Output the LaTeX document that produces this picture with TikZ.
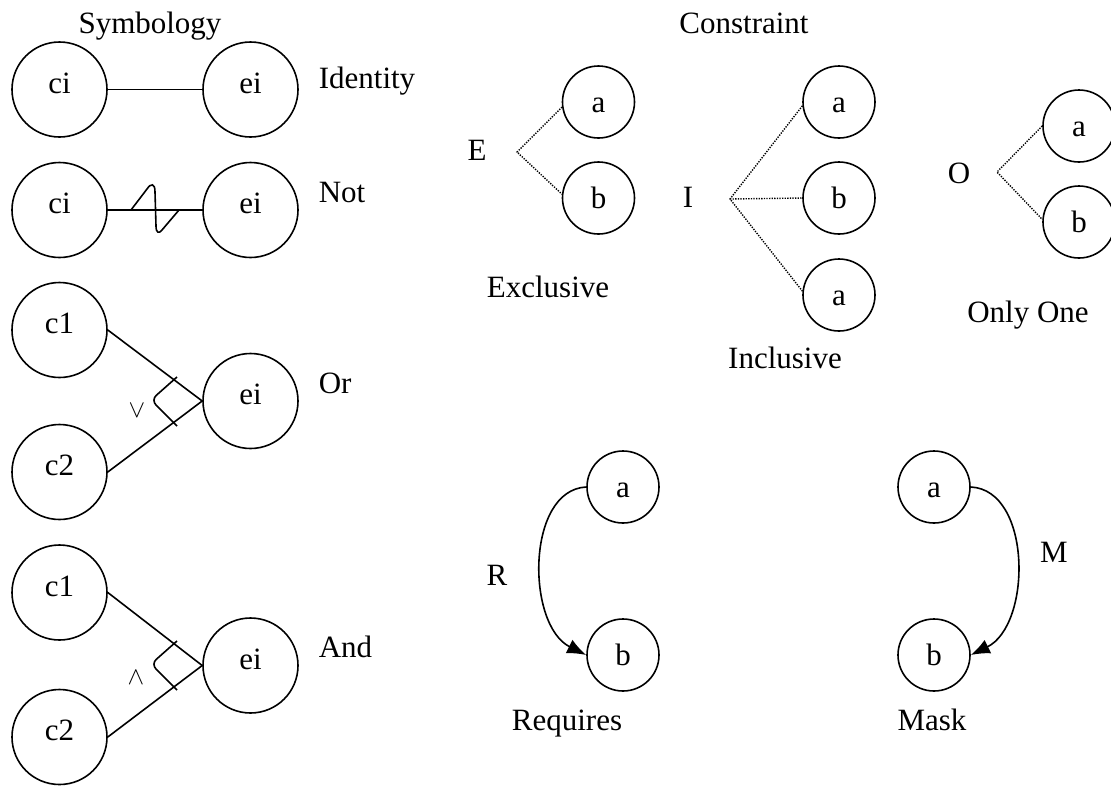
\documentclass[tikz,border=0pt]{standalone}
\usepackage{fontspec}
\setmainfont{Liberation Serif}
\usetikzlibrary{arrows.meta}
\begin{document}
\begin{tikzpicture}[x=1pt,y=-1pt,
  line width=1.6pt,
  font=\fontsize{31pt}{37pt}\selectfont,
  bigc/.style={circle, draw, minimum size=95pt, inner sep=0pt, text height=14pt, text depth=7pt},
  smallc/.style={circle, draw, minimum size=72pt, inner sep=0pt, text height=21pt, text depth=0pt},
  lbl/.style={inner sep=0pt, anchor=base},
  lblw/.style={inner sep=0pt, anchor=base west},
  opsym/.style={inner sep=0pt, font=\fontsize{24pt}{28pt}\selectfont},
  dotline/.style={line width=1.4pt, dash pattern=on 1.3pt off 1.3pt},
  arr/.style={-{Latex[length=19pt,width=15pt]}}
]
\useasboundingbox (0,0) rectangle (1111,785);

% ---------- Symbology ----------
\node[lbl] (tsym) at (150,33) {Symbology};

\node[bigc] (ci1) at (59.5,89.5) {ci};
\node[bigc] (ei1) at (250.5,89.5) {ei};
\draw (ci1) -- (ei1);
\node[lblw] (tid) at (318,88) {Identity};

\node[bigc] (ci2) at (59.5,210) {ci};
\node[bigc] (ei2) at (250.5,210) {ei};
\draw (ci2) -- (ei2);
\draw (131,210) -- (147,189) .. controls (151,183) and (155,183) .. (155,192)
      -- (156,226) .. controls (156,233) and (159,234) .. (162,230) -- (179,210);
\node[lblw] (tnot) at (318,202) {Not};

\node[bigc] (c1a) at (59.5,330) {c1};
\node[bigc] (c2a) at (59.5,472) {c2};
\node[bigc] (eia) at (250.5,401) {ei};
\draw (c1a.east) -- (eia.west);
\draw (c2a.east) -- (eia.west);
\draw[rounded corners=7pt] (177,377) -- (151,400) -- (177,426);
\node[opsym] (vee) at (137,411) {$\vee$};
\node[lblw] (tor) at (318,393) {Or};

\node[bigc] (c1b) at (59.5,592.5) {c1};
\node[bigc] (c2b) at (59.5,737) {c2};
\node[bigc] (eib) at (250.5,665.5) {ei};
\draw (c1b.east) -- (eib.west);
\draw (c2b.east) -- (eib.west);
\draw[rounded corners=7pt] (177,641) -- (151,664) -- (177,690);
\node[opsym] (wedge) at (136,678) {$\wedge$};
\node[lblw] (tand) at (318,657) {And};

% ---------- Constraint ----------
\node[lbl] (tcon) at (744,33) {Constraint};

% Exclusive
\node[smallc] (Ea) at (598.5,102) {a};
\node[smallc] (Eb) at (598.5,198) {b};
\coordinate (Ep) at (517,152);
\draw[dotline] (Ea.188) -- (Ep) -- (Eb.174);
\node[lbl] (tE) at (477,160) {E};
\node[lbl] (texc) at (548,297) {Exclusive};

% Inclusive
\node[smallc] (Ia) at (839,102) {a};
\node[smallc] (Ib) at (839,198) {b};
\node[smallc] (Ic) at (839,295) {a};
\coordinate (Ip) at (730,199);
\draw[dotline] (Ia.186) -- (Ip) -- (Ic.174);
\draw[dotline] (Ip) -- (Ib.west);
\node[lbl] (tI) at (688,207) {I};
\node[lbl] (tinc) at (785,368) {Inclusive};

% Only One
\node[smallc] (Oa) at (1079,126) {a};
\node[smallc] (Ob) at (1079,222) {b};
\coordinate (Op) at (997,172);
\draw[dotline] (Oa.west) -- (Op) -- (Ob.176);
\node[lbl] (tO) at (959,183) {O};
\node[lbl] (tonly) at (1028,322) {Only One};

% Requires
\node[smallc] (Ra) at (623,487) {a};
\node[smallc] (Rb) at (623,655) {b};
\draw[arr] (Ra.west) .. controls (526,490) and (526,625) .. (Rb.west);
\node[lbl] (tR) at (497,585) {R};
\node[lbl] (treq) at (567,730) {Requires};

% Mask
\node[smallc] (Ma) at (934,487) {a};
\node[smallc] (Mb) at (934,655) {b};
\draw[arr] (Ma.east) .. controls (1032,490) and (1032,625) .. (Mb.east);
\node[lbl] (tM) at (1054,562) {M};
\node[lbl] (tmask) at (932,730) {Mask};
\end{tikzpicture}
\end{document}
